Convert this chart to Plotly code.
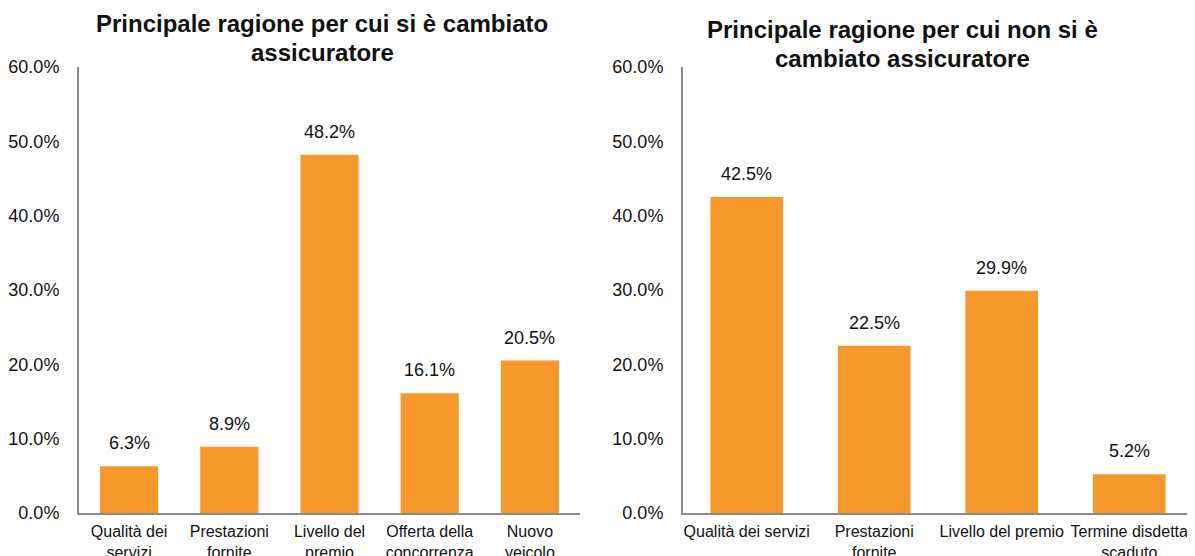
import plotly.graph_objects as go

# Data
left_title = ["Principale ragione per cui si è cambiato", "assicuratore"]
left_categories = ["Qualità dei<br>servizi", "Prestazioni<br>fornite", "Livello del<br>premio",
                   "Offerta della<br>concorrenza", "Nuovo<br>veicolo"]
left_values = [6.3, 8.9, 48.2, 16.1, 20.5]

right_title = ["Principale ragione per cui non si è", "cambiato assicuratore"]
right_categories = ["Qualità dei servizi", "Prestazioni<br>fornite", "Livello del premio",
                    "Termine disdetta<br>scaduto"]
right_values = [42.5, 22.5, 29.9, 5.2]

y_ticks = [0, 10, 20, 30, 40, 50, 60]

# page body has an 8px default margin; size figure to fill the rest of the window
OFF = 8
W, H = 1195 - OFF, 556 - OFF
BAR_COLOR = "#F7982C"
AXIS_COLOR = "#8A8A8A"
FONT = "Liberation Sans, Arial, sans-serif"


def px_x(p):
    return (p - OFF) / W


def px_y(p):
    return 1 - (p - OFF) / H


fig = go.Figure()
fig.add_trace(go.Bar(x=left_categories, y=left_values, marker_color=BAR_COLOR,
                     marker_line_width=0, width=0.58, xaxis="x", yaxis="y",
                     hoverinfo="skip"))
fig.add_trace(go.Bar(x=right_categories, y=right_values, marker_color=BAR_COLOR,
                     marker_line_width=0, width=0.57, xaxis="x2", yaxis="y2",
                     hoverinfo="skip"))

annotations = []
for cats, vals, xr, yr in [(left_categories, left_values, "x", "y"),
                           (right_categories, right_values, "x2", "y2")]:
    for c, v in zip(cats, vals):
        annotations.append(dict(x=c, y=v, xref=xr, yref=yr, text=f"{v:.1f}%",
                                showarrow=False, yanchor="middle", yshift=23,
                                font=dict(size=18, color="#111111", family=FONT)))

for lines, cx, ys in [(left_title, 322, [24, 52]), (right_title, 902, [29, 58])]:
    for line, yy in zip(lines, ys):
        annotations.append(dict(x=px_x(cx), y=px_y(yy), xref="paper", yref="paper",
                                text=f"<b>{line}</b>", showarrow=False,
                                xanchor="center", yanchor="middle",
                                font=dict(size=24, color="#111111", family=FONT)))

y_common = dict(range=[0, 60], tickvals=y_ticks,
                ticktext=[f"{t:.1f}%" for t in y_ticks],
                showline=True, linecolor=AXIS_COLOR, linewidth=2,
                showgrid=False, zeroline=False, ticks="",
                ticklabelstandoff=14, automargin=False,
                tickfont=dict(size=18, color="#111111", family=FONT),
                fixedrange=True)
x_common = dict(showline=True, linecolor=AXIS_COLOR, linewidth=2,
                showgrid=False, zeroline=False, ticks="",
                ticklabelstandoff=3, automargin=False,
                tickfont=dict(size=16, color="#111111", family=FONT),
                tickangle=0, fixedrange=True)

y_dom = [px_y(513), px_y(67)]
fig.update_layout(
    width=W, height=H,
    margin=dict(l=0, r=0, t=0, b=0),
    paper_bgcolor="white", plot_bgcolor="white",
    showlegend=False,
    font=dict(family=FONT),
    xaxis=dict(domain=[px_x(79), px_x(580)], range=[-0.5, 4.5], anchor="y", **x_common),
    yaxis=dict(domain=y_dom, anchor="x", **y_common),
    xaxis2=dict(domain=[px_x(683), px_x(1193)], range=[-0.5, 3.5], anchor="y2", **x_common),
    yaxis2=dict(domain=y_dom, anchor="x2", **y_common),
    annotations=annotations,
)

fig.write_html("out.html")
